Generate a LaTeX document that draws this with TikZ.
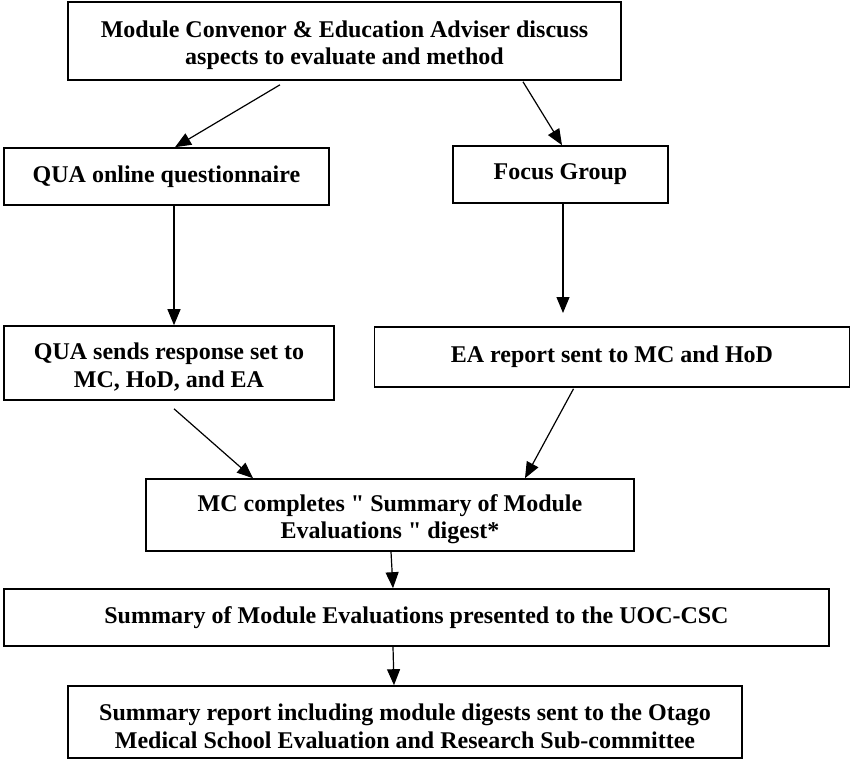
\documentclass[tikz,border=0pt]{standalone}
\usepackage{fontspec}
\newfontfamily\tnr{Liberation Serif}
\usetikzlibrary{arrows.meta}
\newcommand\mytopstrut{\rule{0pt}{25pt}}
\begin{document}
\begin{tikzpicture}[x=1pt,y=-1pt,
  box/.style={draw, line width=1.6pt, inner sep=0pt, align=center,
    font=\tnr\bfseries\fontsize{24}{27.5}\selectfont},
  arr/.style={line width=1.2pt, -{Triangle[length=16pt,width=13pt]}}]
\useasboundingbox (0,0) rectangle (852,760);
\node[box, minimum width=553pt, minimum height=78pt] (b1) at (344.5,41)
  {\mytopstrut Module Convenor \& Education Adviser discuss\\aspects to evaluate and method};
\node[box, minimum width=325pt, minimum height=57pt] (b2) at (166.5,176.5)
  {QUA online questionnaire};
\node[box, minimum width=215pt, minimum height=57pt] (b3) at (560.5,174.5)
  {Focus Group};
\node[box, minimum width=330pt, minimum height=74pt] (b4) at (169,363)
  {\mytopstrut QUA sends response set to\\MC, HoD, and EA};
\node[box, minimum width=475pt, minimum height=60pt] (b5) at (612,357)
  {EA report sent to MC and HoD};
\node[box, minimum width=488pt, minimum height=72pt] (b6) at (390,515)
  {\mytopstrut MC completes " Summary of Module\\Evaluations " digest*};
\node[box, minimum width=825pt, minimum height=57pt] (b7) at (416.5,617.5)
  {Summary of Module Evaluations presented to the UOC-CSC};
\node[box, minimum width=674pt, minimum height=72pt] (b8) at (405,722)
  {\mytopstrut Summary report including module digests sent to the Otago\\Medical School Evaluation and Research Sub-committee};
\coordinate (e4) at (563,313);
\draw[arr] ([xshift=-64.5pt,yshift=-4pt]b1.south) -- ([xshift=8.5pt]b2.north);
\draw[arr] ([xshift=178.5pt,yshift=-1pt]b1.south) -- ([xshift=1.5pt]b3.north);
\draw[arr] ([xshift=7.5pt]b2.south) -- ([xshift=5pt]b4.north);
\draw[arr] ([xshift=2.5pt]b3.south) -- (e4);
\draw[arr] ([xshift=5pt,yshift=-8pt]b4.south) -- ([xshift=-137pt]b6.north);
\draw[arr] ([xshift=-38.5pt,yshift=-1pt]b5.south) -- ([xshift=135pt]b6.north);
\draw[arr] ([xshift=1pt]b6.south) -- ([xshift=-23.5pt]b7.north);
\draw[arr] ([xshift=-23.5pt]b7.south) -- ([xshift=-11pt]b8.north);
\end{tikzpicture}
\end{document}
